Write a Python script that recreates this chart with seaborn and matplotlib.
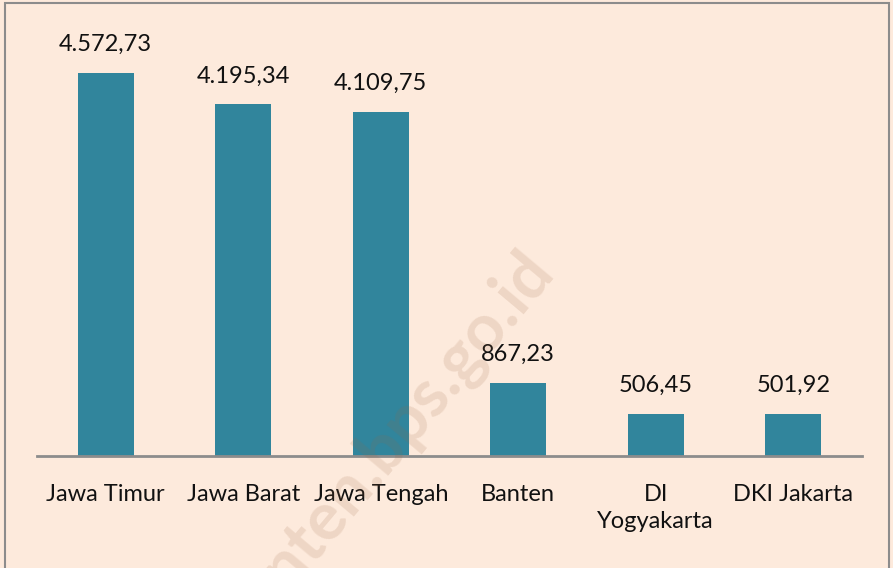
import seaborn as sns
import pandas as pd
import matplotlib.pyplot as plt
from matplotlib.patches import Rectangle

provinces = ["Jawa Timur", "Jawa Barat", "Jawa Tengah", "Banten", "DI\nYogyakarta", "DKI Jakarta"]
values = [4572.73, 4195.34, 4109.75, 867.23, 506.45, 501.92]
value_labels = ["4.572,73", "4.195,34", "4.109,75", "867,23", "506,45", "501,92"]

bg = "#FDEADC"
bar_color = "#31859C"

sns.set_theme(style="white")
plt.rcParams['font.family'] = ['Lato', 'DejaVu Sans']

df = pd.DataFrame({"prov": provinces, "val": values})

fig = plt.figure(figsize=(8.93, 5.68), dpi=100, facecolor=bg)
ax = fig.add_axes([37 / 893, 112 / 568, 825 / 893, 419 / 568])
ax.set_facecolor(bg)

sns.barplot(data=df, x="prov", y="val", color=bar_color, width=0.41,
            saturation=1, linewidth=0, ax=ax)

for p, lab in zip(ax.patches, value_labels):
    ax.annotate(lab, (p.get_x() + p.get_width() / 2, p.get_height()),
                xytext=(0, 13), textcoords="offset points",
                ha="center", va="bottom", fontsize=17, color="#111111")

ax.set_ylim(0, 5000)
ax.set_xlim(-0.5, len(provinces) - 0.5)
ax.set_xlabel("")
ax.set_ylabel("")
ax.set_yticks([])
ax.tick_params(axis="x", length=0, pad=20, labelsize=17, labelcolor="#111111")
for lbl in ax.get_xticklabels():
    lbl.set_linespacing(1.35)
    lbl.set_verticalalignment("top")
for s in ["top", "right", "left"]:
    ax.spines[s].set_visible(False)
ax.spines["bottom"].set_color("#8C8C8C")
ax.spines["bottom"].set_linewidth(2)

# watermark (runs off the bottom edge, as in the source)
fig.text(0.431, 0.213, "banten.bps.go.id", rotation=50, fontsize=48, fontweight="bold",
         color="#9C6440", alpha=0.15, ha="center", va="center", zorder=10)

# outer border
fig.patches.append(Rectangle((5 / 893, -0.01), 884 / 893, 1 - 3 / 568 + 0.01,
                             transform=fig.transFigure, fill=False,
                             edgecolor="#8C8C8C", linewidth=1.5))

fig.savefig("out.png", dpi=100, facecolor=bg)
